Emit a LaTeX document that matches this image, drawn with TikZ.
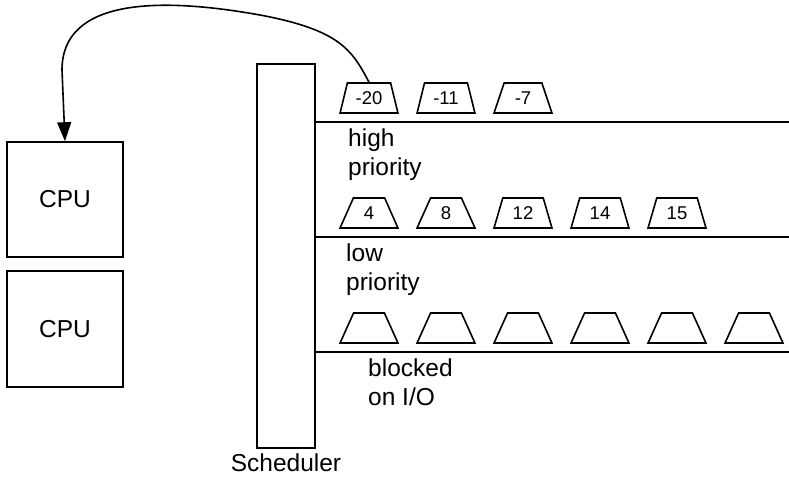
\documentclass[tikz,border=0pt]{standalone}
\usepackage{fontspec}
\setmainfont{Liberation Sans}
\usetikzlibrary{shapes.geometric,arrows.meta}
\begin{document}
\begin{tikzpicture}[x=1pt,y=-1pt,
  box/.style={draw,line width=1.6pt,inner sep=0pt},
  job/.style={draw,line width=1.6pt,shape=trapezium,trapezium stretches=true,
    trapezium left angle=71,trapezium right angle=71,
    minimum width=58pt,minimum height=30pt,inner sep=0pt,
    font=\fontsize{18.5}{18.5}\selectfont},
  lbl/.style={align=left,anchor=north west,inner sep=0pt,
    font=\fontsize{24.5}{28.5}\selectfont},
  big/.style={font=\fontsize{24.5}{28}\selectfont},
  queue/.style={line width=1.6pt}]
\useasboundingbox (0,0) rectangle (789,483);
% CPUs
\node[box,big,minimum width=116pt,minimum height=115pt] (cpu1) at (65,199.5) {CPU};
\node[box,big,minimum width=116pt,minimum height=116pt] (cpu2) at (65,329) {CPU};
% Scheduler
\node[box,minimum width=58pt,minimum height=384pt] (sched) at (286,256) {};
\node[anchor=north,inner sep=0pt,big] (schedlbl) at (286,454) {Scheduler};
% queue lines
\coordinate (hiend) at (789,122);
\coordinate (loend) at (789,237);
\coordinate (blend) at (789,352);
\draw[queue] (sched.east |- hiend) -- (hiend);
\draw[queue] (sched.east |- loend) -- (loend);
\draw[queue] (sched.east |- blend) -- (blend);
% high priority
\node[job] (h1) at (369,98) {-20};
\node[job] (h2) at (446,98) {-11};
\node[job] (h3) at (523,98) {-7};
\node[lbl] (hilbl) at (348,129) {high\\priority};
% low priority
\node[job] (l1) at (369,213) {4};
\node[job] (l2) at (446,213) {8};
\node[job] (l3) at (523,213) {12};
\node[job] (l4) at (600,213) {14};
\node[job] (l5) at (677,213) {15};
\node[lbl] (lolbl) at (346,244) {low\\priority};
% blocked
\node[job] (b1) at (369,328) {\phantom{0}};
\node[job] (b2) at (446,328) {\phantom{0}};
\node[job] (b3) at (523,328) {\phantom{0}};
\node[job] (b4) at (600,328) {\phantom{0}};
\node[job] (b5) at (677,328) {\phantom{0}};
\node[job] (b6) at (754,328) {\phantom{0}};
\node[lbl] (bllbl) at (368,359) {blocked\\on I/O};
% dispatch arrow
\draw[line width=1.6pt,-{Triangle[length=19pt,width=14pt]}]
  (h1.north) .. controls (352,50) and (340,30) .. (260,15)
  .. controls (160,-3) and (62,-2) .. (62,70) -- (cpu1.north);
\end{tikzpicture}
\end{document}
